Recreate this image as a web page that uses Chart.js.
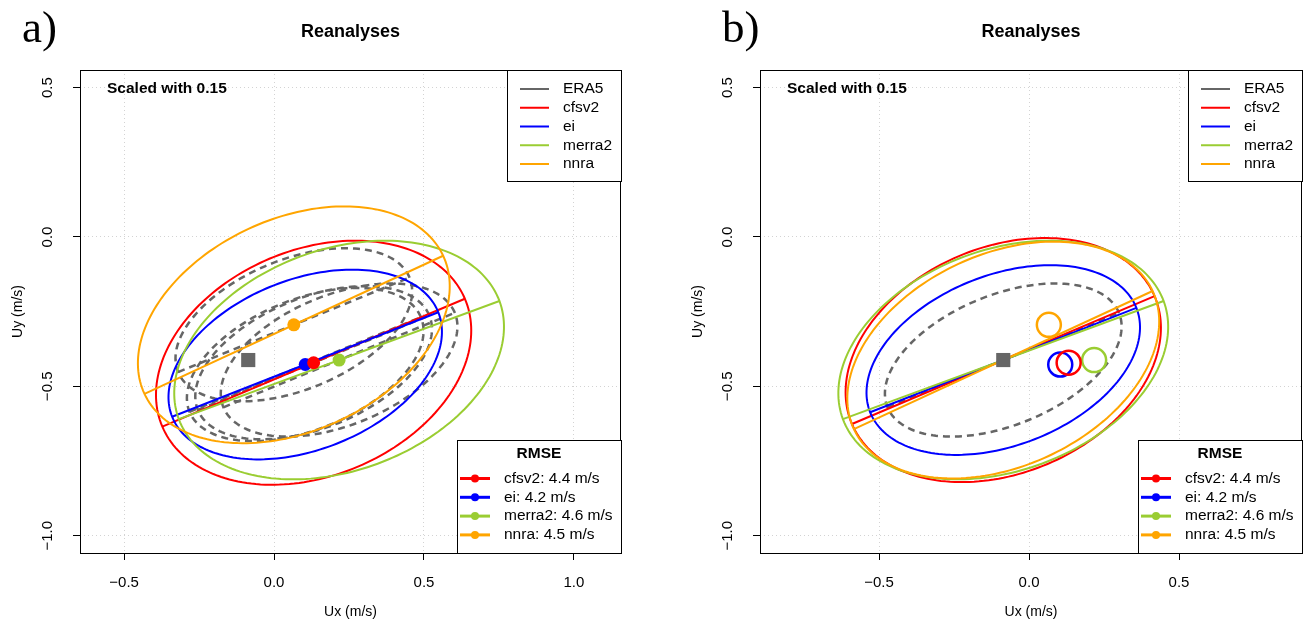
<!DOCTYPE html>
<html>
<head>
<meta charset="utf-8">
<script src="https://cdn.jsdelivr.net/npm/chart.js@4.4.0/dist/chart.umd.min.js"></script>
<style>
  html, body { margin: 0; padding: 0; background: #fff; }
  #wrap { position: relative; width: 1305px; height: 628px; }
  #wrapA { position: absolute; left: 0; top: 0; width: 652px; height: 628px; }
  #wrapB { position: absolute; left: 652px; top: 0; width: 653px; height: 628px; }
</style>
</head>
<body>
<div id="wrap">
  <div id="wrapA"><canvas id="chartA" width="652" height="628"></canvas></div>
  <div id="wrapB"><canvas id="chartB" width="653" height="628"></canvas></div>
</div>
<script>
// Dados
const models = ['cfsv2', 'ei', 'merra2', 'nnra'];
const modelColors = ['#ff0000', '#0000ff', '#9acd32', '#ffa500'];
const rmse = [4.4, 4.2, 4.6, 4.5];
const meanUx = [0.132, 0.104, 0.217, 0.066];
const meanUy = [-0.421, -0.427, -0.412, -0.294];
// elipses: semi-eixo maior, semi-eixo menor, inclinação (graus)
const semiMajor = [0.548, 0.477, 0.570, 0.549];
const semiMinor = [0.378, 0.285, 0.370, 0.355];
const angleDeg = [23.0, 21.5, 20.3, 24.9];
const era5Name = 'ERA5';
const era5Mean = [-0.086, -0.412];
const era5Ellipse = [0.417, 0.218, 22.3];
const xTicksA = [-0.5, 0.0, 0.5, 1.0];
const xTicksB = [-0.5, 0.0, 0.5];
const yTicks = [0.5, 0.0, -0.5, -1.0];
const xRangeA = [-0.647, 1.157];
const xRangeB = [-0.897, 0.91];
const yRange = [-1.058, 0.559];

const FONT = '"Liberation Sans", Arial, Helvetica, sans-serif';
const ERA5_COLOR = '#666666';

function fmt(v) {
    return v.toFixed(1).replace('-', '\u2212');
}

// Desenha uma elipse (em coordenadas de dados) pelas escalas do gráfico
function ellipsePath(chart, cx, cy, a, b, deg) {
    const xs = chart.scales.x, ys = chart.scales.y, ctx = chart.ctx;
    const th = deg * Math.PI / 180;
    ctx.beginPath();
    for (let i = 0; i <= 200; i++) {
        const t = i / 200 * 2 * Math.PI;
        const x = cx + a * Math.cos(t) * Math.cos(th) - b * Math.sin(t) * Math.sin(th);
        const y = cy + a * Math.cos(t) * Math.sin(th) + b * Math.sin(t) * Math.cos(th);
        const px = xs.getPixelForValue(x), py = ys.getPixelForValue(y);
        if (i === 0) ctx.moveTo(px, py); else ctx.lineTo(px, py);
    }
    ctx.closePath();
}

function axisPath(chart, cx, cy, a, deg) {
    const xs = chart.scales.x, ys = chart.scales.y, ctx = chart.ctx;
    const th = deg * Math.PI / 180;
    ctx.beginPath();
    ctx.moveTo(xs.getPixelForValue(cx - a * Math.cos(th)), ys.getPixelForValue(cy - a * Math.sin(th)));
    ctx.lineTo(xs.getPixelForValue(cx + a * Math.cos(th)), ys.getPixelForValue(cy + a * Math.sin(th)));
}

function drawEllipse(chart, cx, cy, a, b, deg, color, dashed) {
    const ctx = chart.ctx;
    ctx.save();
    ctx.strokeStyle = color;
    ctx.lineWidth = dashed ? 2.5 : 2;
    ctx.setLineDash(dashed ? [7, 5] : []);
    ellipsePath(chart, cx, cy, a, b, deg);
    ctx.stroke();
    axisPath(chart, cx, cy, a, deg);
    ctx.stroke();
    ctx.restore();
}

function makeChart(canvasId, panel) {
    const isA = panel.mode === 'model';

    const datasets = [{
        label: era5Name,
        data: [{ x: era5Mean[0], y: era5Mean[1] }],
        pointStyle: 'rect',
        pointRadius: 10,
        backgroundColor: ERA5_COLOR,
        borderWidth: 0
    }];
    models.forEach((m, i) => {
        datasets.push({
            label: m,
            data: [{ x: meanUx[i], y: meanUy[i] }],
            pointStyle: 'circle',
            pointRadius: isA ? 6.5 : 12,
            backgroundColor: isA ? modelColors[i] : 'rgba(0,0,0,0)',
            borderColor: modelColors[i],
            borderWidth: isA ? 0 : 2.5
        });
    });

    const ellipsePlugin = {
        id: 'ellipses',
        beforeDatasetsDraw(chart) {
            const ctx = chart.ctx;
            const ca = chart.chartArea;
            ctx.save();
            ctx.beginPath();
            ctx.rect(ca.left, ca.top, ca.right - ca.left, ca.bottom - ca.top);
            ctx.clip();
            if (isA) {
                models.forEach((m, i) => {
                    drawEllipse(chart, meanUx[i], meanUy[i], era5Ellipse[0], era5Ellipse[1], era5Ellipse[2], ERA5_COLOR, true);
                });
                models.forEach((m, i) => {
                    drawEllipse(chart, meanUx[i], meanUy[i], semiMajor[i], semiMinor[i], angleDeg[i], modelColors[i], false);
                });
            } else {
                drawEllipse(chart, era5Mean[0], era5Mean[1], era5Ellipse[0], era5Ellipse[1], era5Ellipse[2], ERA5_COLOR, true);
                models.forEach((m, i) => {
                    drawEllipse(chart, era5Mean[0], era5Mean[1], semiMajor[i], semiMinor[i], angleDeg[i], modelColors[i], false);
                });
            }
            ctx.restore();
        }
    };

    const decorPlugin = {
        id: 'decor',
        afterDraw(chart) {
            const ctx = chart.ctx;
            const ca = chart.chartArea;
            const ys = chart.scales.y;
            ctx.save();

            // caixa do gráfico
            ctx.strokeStyle = '#000';
            ctx.lineWidth = 1;
            ctx.strokeRect(ca.left + 0.5, ca.top + 0.5, ca.right - ca.left - 1, ca.bottom - ca.top);

            // rótulos do eixo y (rotacionados, estilo R)
            ctx.fillStyle = '#000';
            ctx.font = '15px ' + FONT;
            ctx.textAlign = 'center';
            ctx.textBaseline = 'middle';
            yTicks.forEach(v => {
                ctx.save();
                ctx.translate(ca.left - 32, ys.getPixelForValue(v));
                ctx.rotate(-Math.PI / 2);
                ctx.fillText(fmt(v), 0, 0);
                ctx.restore();
            });

            // títulos dos eixos
            ctx.font = '14px ' + FONT;
            ctx.fillText('Ux (m/s)', (ca.left + ca.right) / 2, 612);
            ctx.save();
            ctx.translate(ca.left - 62, (ca.top + ca.bottom) / 2);
            ctx.rotate(-Math.PI / 2);
            ctx.fillText('Uy (m/s)', 0, 0);
            ctx.restore();

            // título
            ctx.font = 'bold 18px ' + FONT;
            ctx.fillText('Reanalyses', (ca.left + ca.right) / 2, 32);

            // letra do painel
            ctx.font = '45px "Liberation Serif", "Times New Roman", serif';
            ctx.textAlign = 'left';
            ctx.textBaseline = 'alphabetic';
            ctx.fillText(panel.letter, panel.letterX, 42);

            // texto de escala
            ctx.font = 'bold 15.5px ' + FONT;
            ctx.textBaseline = 'middle';
            ctx.fillText('Scaled with 0.15', ca.left + 27, ca.top + 19);

            // legenda superior
            const lw = 114, lh = 111;
            const lx = ca.right - lw, ly = ca.top;
            ctx.fillStyle = '#fff';
            ctx.fillRect(lx, ly, lw, lh);
            ctx.strokeStyle = '#000';
            ctx.lineWidth = 1;
            ctx.strokeRect(lx + 0.5, ly + 0.5, lw, lh);
            const names = [era5Name].concat(models);
            const cols = [ERA5_COLOR].concat(modelColors);
            ctx.font = '15.5px ' + FONT;
            names.forEach((n, i) => {
                const yy = ly + 19 + i * 18.75;
                ctx.strokeStyle = cols[i];
                ctx.lineWidth = 2;
                ctx.beginPath();
                ctx.moveTo(lx + 13, yy);
                ctx.lineTo(lx + 42, yy);
                ctx.stroke();
                ctx.fillStyle = '#000';
                ctx.fillText(n, lx + 56, yy);
            });

            // legenda RMSE
            const rw = 164, rh = 113;
            const rx = ca.right - rw, ry = ca.bottom - rh;
            ctx.fillStyle = '#fff';
            ctx.fillRect(rx, ry, rw, rh);
            ctx.strokeStyle = '#000';
            ctx.lineWidth = 1;
            ctx.strokeRect(rx + 0.5, ry + 0.5, rw, rh);
            ctx.fillStyle = '#000';
            ctx.font = 'bold 15.5px ' + FONT;
            ctx.textAlign = 'center';
            ctx.fillText('RMSE', rx + rw / 2, ry + 14);
            ctx.textAlign = 'left';
            ctx.font = '15.5px ' + FONT;
            models.forEach((m, i) => {
                const yy = ry + 38.5 + i * 18.8;
                ctx.strokeStyle = modelColors[i];
                ctx.fillStyle = modelColors[i];
                ctx.lineWidth = 3;
                ctx.beginPath();
                ctx.moveTo(rx + 3, yy);
                ctx.lineTo(rx + 33, yy);
                ctx.stroke();
                ctx.beginPath();
                ctx.arc(rx + 18, yy, 4, 0, 2 * Math.PI);
                ctx.fill();
                ctx.fillStyle = '#000';
                ctx.fillText(m + ': ' + rmse[i].toFixed(1) + ' m/s', rx + 47, yy);
            });
            ctx.restore();
        }
    };

    return new Chart(document.getElementById(canvasId), {
        type: 'scatter',
        data: { datasets: datasets },
        options: {
            responsive: false,
            animation: false,
            devicePixelRatio: 1,
            layout: { autoPadding: false, padding: { top: 70, right: panel.padRight, left: 0, bottom: 0 } },
            plugins: { legend: { display: false }, tooltip: { enabled: false } },
            scales: {
                x: {
                    type: 'linear',
                    min: panel.xRange[0],
                    max: panel.xRange[1],
                    afterBuildTicks: s => { s.ticks = panel.xTicks.map(v => ({ value: v })); },
                    afterFit: s => { s.height = 75; s.paddingLeft = 0; s.paddingRight = 0; },
                    grid: { color: '#d3d3d3', lineWidth: 1, tickLength: 7, tickColor: '#000', tickWidth: 1 },
                    border: { display: false, dash: [1, 3] },
                    ticks: {
                        color: '#000',
                        font: { size: 15, family: FONT },
                        padding: 14,
                        maxRotation: 0,
                        autoSkip: false,
                        callback: v => fmt(v)
                    }
                },
                y: {
                    type: 'linear',
                    min: yRange[0],
                    max: yRange[1],
                    afterBuildTicks: s => { s.ticks = yTicks.map(v => ({ value: v })); },
                    afterFit: s => { s.width = panel.yWidth; s.paddingTop = 0; s.paddingBottom = 0; },
                    grid: { color: '#d3d3d3', lineWidth: 1, tickLength: 7, tickColor: '#000', tickWidth: 1 },
                    border: { display: false, dash: [1, 3] },
                    ticks: { display: false }
                }
            }
        },
        plugins: [ellipsePlugin, decorPlugin]
    });
}

makeChart('chartA', { mode: 'model', letter: 'a)', letterX: 22, xRange: xRangeA, xTicks: xTicksA, padRight: 31, yWidth: 80 });
makeChart('chartB', { mode: 'era5', letter: 'b)', letterX: 70, xRange: xRangeB, xTicks: xTicksB, padRight: 3, yWidth: 108 });
</script>
</body>
</html>
